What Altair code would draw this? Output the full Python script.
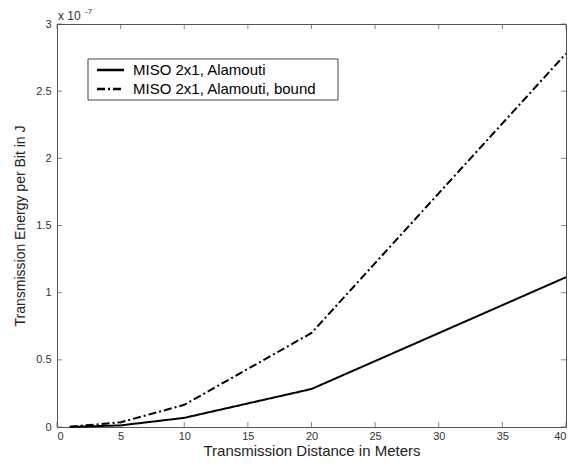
import altair as alt
import pandas as pd

# Data (energy values in units of 1e-7 J)
distance = [1, 5, 10, 20, 40]
alamouti = [0.0005, 0.012, 0.068, 0.283, 1.115]
alamouti_bound = [0.002, 0.035, 0.165, 0.70, 2.78]
series_names = ["MISO 2x1, Alamouti", "MISO 2x1, Alamouti, bound"]
x_ticks = [0, 5, 10, 15, 20, 25, 30, 35, 40]
y_ticks = [0, 0.5, 1, 1.5, 2, 2.5, 3]

W, H = 509, 403
FONT = "Liberation Sans"
DASHES = [[1, 0], [8, 3, 2, 3]]

rows = []
for d, v in zip(distance, alamouti):
    rows.append({"d": d, "e": v, "s": series_names[0]})
for d, v in zip(distance, alamouti_bound):
    rows.append({"d": d, "e": v, "s": series_names[1]})
df = pd.DataFrame(rows)

xs = alt.Scale(domain=[0, 40], nice=False, zero=False)
ys = alt.Scale(domain=[0, 3], nice=False, zero=False)

lines = alt.Chart(df).mark_line(strokeWidth=2, color="black").encode(
    x=alt.X("d:Q", scale=xs,
            axis=alt.Axis(values=x_ticks, title="Transmission Distance in Meters",
                          format="~g", grid=False, domain=False, ticks=False,
                          labelPadding=3, labelFontSize=11, labelColor="#333",
                          titleFontSize=15, titleFontWeight="normal", titlePadding=2,
                          titleColor="#222", labelFont=FONT, titleFont=FONT)),
    y=alt.Y("e:Q", scale=ys,
            axis=alt.Axis(values=y_ticks, title="Transmission Energy per Bit in J",
                          format="~g", grid=False, domain=False, ticks=False,
                          labelPadding=6, labelFontSize=11, labelColor="#333",
                          titleFontSize=14, titleFontWeight="normal", titlePadding=8,
                          titleColor="#222", labelFont=FONT, titleFont=FONT)),
    strokeDash=alt.StrokeDash("s:N", scale=alt.Scale(domain=series_names, range=DASHES),
                              legend=None),
)

xt = pd.DataFrame({"d": x_ticks})
yt = pd.DataFrame({"e": y_ticks})

tick_kw = dict(size=5, thickness=1, color="#555")
bottom_ticks = alt.Chart(xt).mark_tick(orient="vertical", **tick_kw).encode(
    x=alt.X("d:Q", scale=xs), y=alt.value(H - 2.5))
top_ticks = alt.Chart(xt).mark_tick(orient="vertical", **tick_kw).encode(
    x=alt.X("d:Q", scale=xs), y=alt.value(2.5))
left_ticks = alt.Chart(yt).mark_tick(orient="horizontal", **tick_kw).encode(
    y=alt.Y("e:Q", scale=ys), x=alt.value(2.5))
right_ticks = alt.Chart(yt).mark_tick(orient="horizontal", **tick_kw).encode(
    y=alt.Y("e:Q", scale=ys), x=alt.value(W - 2.5))

exp_base = alt.Chart(pd.DataFrame({"t": ["x 10"]})).mark_text(
    align="left", baseline="alphabetic", fontSize=12, font=FONT, color="#333").encode(
    text="t:N", x=alt.value(1), y=alt.value(-4))
exp_pow = alt.Chart(pd.DataFrame({"t": ["-7"]})).mark_text(
    align="left", baseline="alphabetic", fontSize=8, font=FONT, color="#333").encode(
    text="t:N", x=alt.value(28), y=alt.value(-10))

# Manual legend (box, line samples, labels)
legend_box = alt.Chart(pd.DataFrame({"k": [0]})).mark_rect(
    fill="white", stroke="#444", strokeWidth=1).encode(
    x=alt.value(31), x2=alt.value(281), y=alt.value(35), y2=alt.value(76))
legend_layers = [legend_box]
row_y = [46, 65]
for name, dash, yy in zip(series_names, DASHES, row_y):
    src = pd.DataFrame({"s": [name]})
    legend_layers.append(
        alt.Chart(src).mark_rule(color="black", strokeWidth=2.5, strokeDash=dash).encode(
            x=alt.value(40), x2=alt.value(67), y=alt.value(yy)))
    legend_layers.append(
        alt.Chart(src).mark_text(align="left", baseline="middle", fontSize=15,
                                 font=FONT, color="black").encode(
            text="s:N", x=alt.value(76), y=alt.value(yy)))

chart = alt.layer(lines, bottom_ticks, top_ticks, left_ticks, right_ticks,
                  exp_base, exp_pow, *legend_layers).properties(
    width=W, height=H,
    autosize=alt.AutoSizeParams(type="none"),
    padding={"left": 49, "top": 16, "right": 6, "bottom": 31},
).configure_view(stroke="#555", strokeWidth=1)

chart.save("out.html", embed_options={"renderer": "svg", "actions": False})
